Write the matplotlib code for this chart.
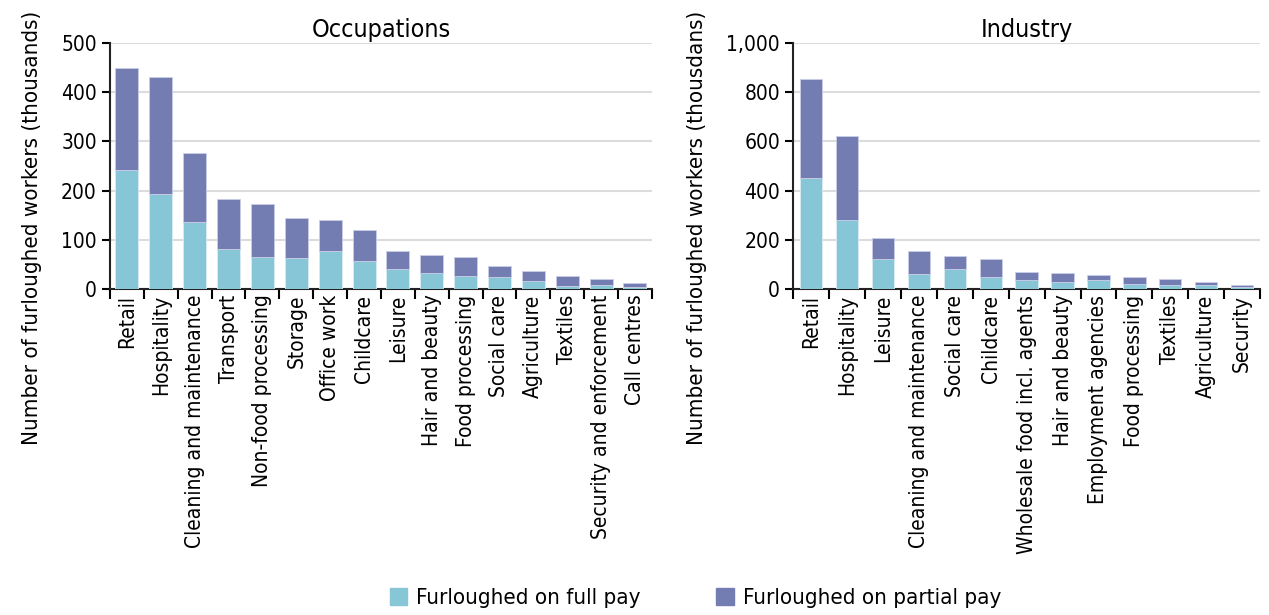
import matplotlib
matplotlib.use('Agg')
import matplotlib.pyplot as plt
from matplotlib.ticker import FuncFormatter, MultipleLocator
from matplotlib.patches import Patch
import numpy as np

plt.rcParams['font.family'] = ['DejaVu Sans']
plt.rcParams['font.stretch'] = 'condensed'

# Occupations (thousands)
occ_labels = ['Retail', 'Hospitality', 'Cleaning and maintenance', 'Transport',
              'Non-food processing', 'Storage', 'Office work', 'Childcare', 'Leisure',
              'Hair and beauty', 'Food processing', 'Social care', 'Agriculture',
              'Textiles', 'Security and enforcement', 'Call centres']
occ_full = [242, 194, 137, 81, 65, 64, 77, 58, 41, 33, 26, 25, 16, 7, 9, 5]
occ_total = [450, 431, 277, 184, 172, 145, 141, 121, 77, 70, 66, 46, 37, 26, 21, 12]

# Industry (thousands)
ind_labels = ['Retail', 'Hospitality', 'Leisure', 'Cleaning and maintenance',
              'Social care', 'Childcare', 'Wholesale food incl. agents', 'Hair and beauty',
              'Employment agencies', 'Food processing', 'Textiles', 'Agriculture', 'Security']
ind_full = [453, 282, 121, 61, 83, 49, 35, 27, 35, 19, 15, 15, 7]
ind_total = [852, 623, 207, 153, 133, 123, 70, 66, 58, 49, 41, 30, 15]

FULL_COLOR = '#86c6d6'
PART_COLOR = '#737db1'


def draw_panel(ax, labels, full, total, width, ymax, step, title, ylabel):
    x = np.arange(len(labels))
    partial = np.array(total) - np.array(full)
    ax.bar(x, full, width=width, color=FULL_COLOR, edgecolor='#d8eef3', linewidth=0.6, zorder=3)
    ax.bar(x, partial, bottom=full, width=width, color=PART_COLOR, edgecolor='#c9cde6',
           linewidth=0.6, zorder=3)
    ax.set_xlim(-0.5, len(labels) - 0.5)
    ax.set_ylim(0, ymax)
    ax.yaxis.set_major_locator(MultipleLocator(step))
    ax.yaxis.set_major_formatter(FuncFormatter(lambda v, p: f'{int(v):,}'))
    ax.yaxis.grid(True, color='#dcdcdc', linewidth=1.5, zorder=0)
    ax.set_axisbelow(True)
    ax.set_xticks(x)
    ax.set_xticklabels(labels, rotation=90, fontsize=15)
    ax.tick_params(axis='x', which='major', length=0, pad=4)
    ax.set_xticks(np.arange(len(labels) + 1) - 0.5, minor=True)
    ax.tick_params(axis='x', which='minor', length=7, width=1.5, direction='out')
    ax.tick_params(axis='y', labelsize=15, length=6, width=1.5)
    for s in ['top', 'right']:
        ax.spines[s].set_visible(False)
    for s in ['left', 'bottom']:
        ax.spines[s].set_linewidth(1.5)
        ax.spines[s].set_color('#222222')
    ax.set_title(title, fontsize=18, pad=4)
    ax.set_ylabel(ylabel, fontsize=16, labelpad=14, y=0.25)


fig = plt.figure(figsize=(12.69, 6.15), dpi=100)
ax1 = fig.add_axes([0.0867, 0.530, 0.427, 0.400])
ax2 = fig.add_axes([0.625, 0.530, 0.368, 0.400])

draw_panel(ax1, occ_labels, occ_full, occ_total, 0.68, 500, 100, 'Occupations',
           'Number of furloughed workers (thousands)')
draw_panel(ax2, ind_labels, ind_full, ind_total, 0.62, 1000, 200, 'Industry',
           'Number of furloughed workers (thousdans)')

handles = [Patch(color=FULL_COLOR, label='Furloughed on full pay'),
           Patch(color=PART_COLOR, label='Furloughed on partial pay')]
fig.legend(handles=handles, loc='center', bbox_to_anchor=(0.548, 0.028), ncol=2,
           frameon=False, fontsize=16, handlelength=0.8, handleheight=0.8,
           handletextpad=0.4, columnspacing=3.4)

fig.savefig('out.png', dpi=100, facecolor='white')
